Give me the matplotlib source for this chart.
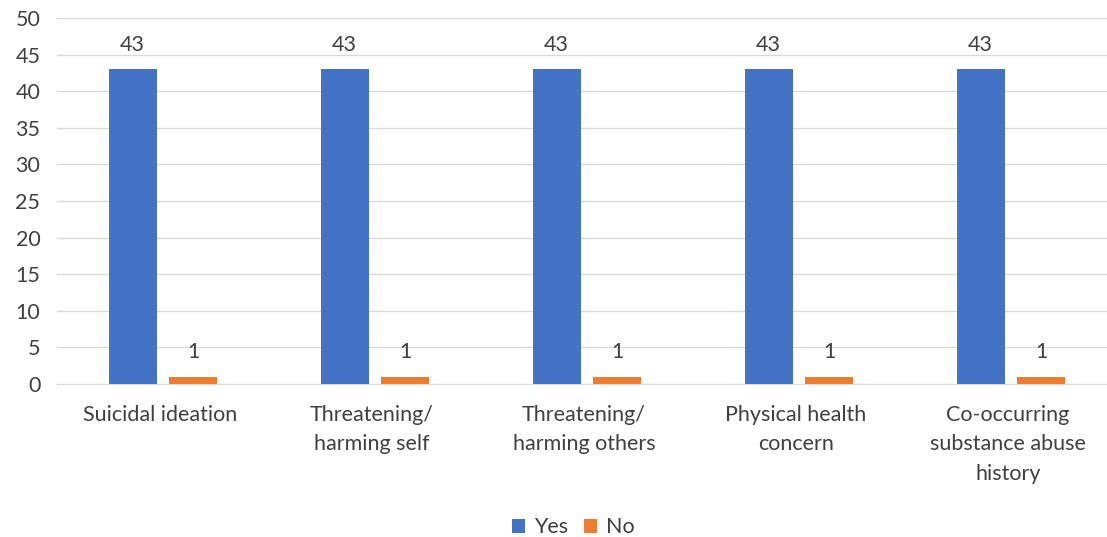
import matplotlib.pyplot as plt
import numpy as np

categories = ['Suicidal ideation', 'Threatening/\nharming self', 'Threatening/\nharming others',
              'Physical health\nconcern', 'Co-occurring\nsubstance abuse\nhistory']
yes_vals = [43, 43, 43, 43, 43]
no_vals = [1, 1, 1, 1, 1]
yticks = list(range(0, 55, 5))

plt.rcParams['font.family'] = ['Lato', 'DejaVu Sans']


def main():
    fig = plt.figure(figsize=(11.07, 5.37), dpi=100)
    ax = fig.add_axes([57 / 1107, 1 - 384 / 537, 1060 / 1107, (384 - 18) / 537])

    x = np.arange(len(categories))
    w = 0.225
    off = 0.143
    b1 = ax.bar(x - off, yes_vals, w, color='#4472C4', label='Yes', zorder=3)
    b2 = ax.bar(x + off, no_vals, w, color='#ED7D31', label='No', zorder=3)

    for bars in (b1, b2):
        for b in bars:
            ax.text(b.get_x() + b.get_width() / 2, b.get_height() + 2.0, str(int(b.get_height())),
                    ha='center', va='bottom', fontsize=15.5, color='#404040')

    ax.set_xlim(-0.5, len(categories) - 0.5)
    ax.set_ylim(0, 50)
    ax.set_yticks(yticks)
    ax.set_xticks(x - 0.015)
    ax.set_xticklabels(categories, fontsize=15.5, color='#404040', va='top', linespacing=1.6)
    ax.tick_params(axis='y', labelsize=15.5, labelcolor='#404040', length=0, pad=12)
    ax.tick_params(axis='x', length=0, pad=15)
    ax.grid(axis='y', color='#D9D9D9', linewidth=1, zorder=0)
    for s in ['top', 'right', 'left']:
        ax.spines[s].set_visible(False)
    ax.spines['bottom'].set_color('#D9D9D9')

    fig.legend(loc='lower center', bbox_to_anchor=(0.518, -0.037), ncol=2, frameon=False,
               fontsize=15.5, handlelength=0.6, handleheight=0.6, columnspacing=0.75,
               handletextpad=0.4, labelcolor='#404040')

    fig.savefig('out.png', dpi=100)


if __name__ == '__main__':
    main()
